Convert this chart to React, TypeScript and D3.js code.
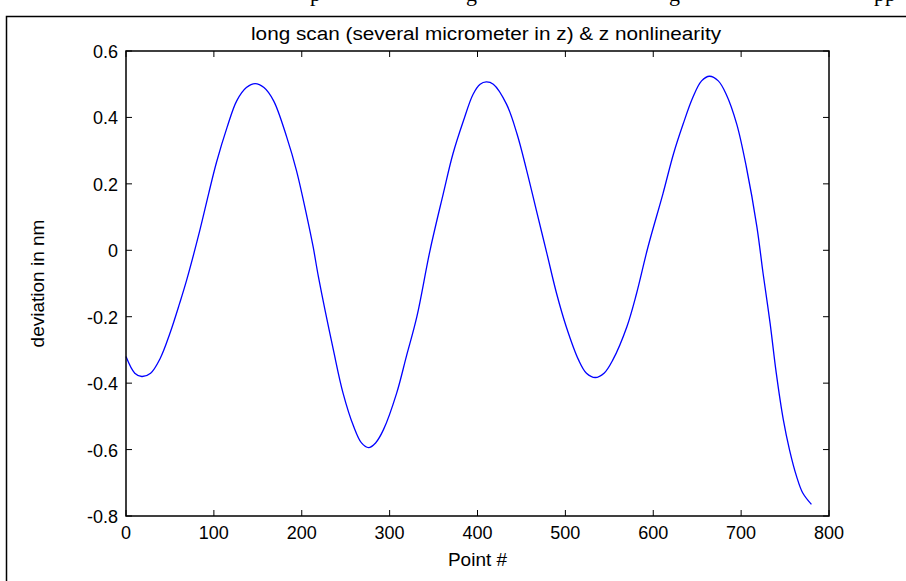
import React, { useEffect, useRef } from 'react';
import * as d3 from 'd3';

// point index
const pointIndex = [
  0, 10, 18, 28, 39, 50, 61, 69, 84, 94, 103, 115, 126, 137, 147, 157, 168, 183, 194, 206,
  213, 219, 236, 247, 259, 268, 276, 284, 293, 308, 319, 331, 346, 361, 372, 384, 395, 403,
  410, 418, 433, 445, 456, 467, 479, 490, 501, 515, 524, 534, 544, 554, 570, 581, 594, 611,
  623, 634, 645, 655, 664, 674, 683, 695, 706, 718, 725, 733, 740, 748, 755, 763, 770, 780,
];

// deviation in nm
const deviation = [
  -0.32, -0.37, -0.38, -0.37, -0.325, -0.25, -0.16, -0.09, 0.06, 0.17, 0.265, 0.37, 0.45, 0.49,
  0.502, 0.49, 0.45, 0.34, 0.24, 0.1, 0.01, -0.08, -0.3, -0.43, -0.53, -0.58, -0.594, -0.58,
  -0.54, -0.43, -0.32, -0.2, 0.0, 0.17, 0.29, 0.39, 0.47, 0.5, 0.507, 0.5, 0.44, 0.35, 0.24,
  0.12, -0.01, -0.13, -0.23, -0.33, -0.37, -0.383, -0.37, -0.33, -0.23, -0.13, 0.01, 0.17,
  0.29, 0.38, 0.46, 0.51, 0.524, 0.51, 0.47, 0.38, 0.25, 0.07, -0.07, -0.22, -0.37, -0.51,
  -0.6, -0.68, -0.73, -0.765,
];

const xTicks = [0, 100, 200, 300, 400, 500, 600, 700, 800];
const yTicks = [0.6, 0.4, 0.2, 0, -0.2, -0.4, -0.6, -0.8];

const App = () => {
  const svgRef = useRef<SVGSVGElement>(null);

  useEffect(() => {
    const svg = d3.select(svgRef.current);
    svg.selectAll('*').remove();

    const W = 906;
    const H = 581;
    const margin = { top: 51, right: 77, bottom: 65, left: 126 };
    const width = W - margin.left - margin.right;
    const height = H - margin.top - margin.bottom;
    const font = 'Arial, "Liberation Sans", sans-serif';

    // cut-off line of the surrounding document (only descenders show)
    const cut = [
      { t: 'p', x: 310 },
      { t: 'g', x: 466 },
      { t: 'g', x: 669 },
      { t: 'pp', x: 874 },
    ];
    svg.selectAll('.cut')
      .data(cut)
      .enter()
      .append('text')
      .attr('x', d => d.x)
      .attr('y', 1)
      .style('font-family', '"Liberation Serif", "Times New Roman", serif')
      .style('font-size', '22px')
      .text(d => d.t);

    // figure frame
    svg.append('rect')
      .attr('x', 6.5)
      .attr('y', 16.5)
      .attr('width', W + 10)
      .attr('height', H + 10)
      .attr('fill', 'none')
      .attr('stroke', '#000')
      .attr('stroke-width', 1.5);

    const g = svg.append('g')
      .attr('transform', `translate(${margin.left},${margin.top})`);

    const x = d3.scaleLinear().domain([0, 800]).range([0, width]);
    const y = d3.scaleLinear().domain([-0.8, 0.6]).range([height, 0]);

    // the curve
    const data = pointIndex.map((p, i) => ({ p, v: deviation[i] }));
    const line = d3.line<{ p: number; v: number }>()
      .x(d => x(d.p))
      .y(d => y(d.v))
      .curve(d3.curveCatmullRom.alpha(0.5));

    g.append('path')
      .datum(data)
      .attr('fill', 'none')
      .attr('stroke', '#0000ff')
      .attr('stroke-width', 1.3)
      .attr('d', line);

    // box
    g.append('rect')
      .attr('width', width)
      .attr('height', height)
      .attr('fill', 'none')
      .attr('stroke', '#000')
      .attr('stroke-width', 1.5);

    const tick = 6;
    // inward ticks on all sides
    xTicks.forEach(t => {
      g.append('line').attr('x1', x(t)).attr('x2', x(t)).attr('y1', height).attr('y2', height - tick)
        .attr('stroke', '#000').attr('stroke-width', 1);
      g.append('line').attr('x1', x(t)).attr('x2', x(t)).attr('y1', 0).attr('y2', tick)
        .attr('stroke', '#000').attr('stroke-width', 1);
    });
    yTicks.forEach(t => {
      g.append('line').attr('x1', 0).attr('x2', tick).attr('y1', y(t)).attr('y2', y(t))
        .attr('stroke', '#000').attr('stroke-width', 1);
      g.append('line').attr('x1', width).attr('x2', width - tick).attr('y1', y(t)).attr('y2', y(t))
        .attr('stroke', '#000').attr('stroke-width', 1);
    });

    // tick labels
    g.selectAll('.xlab')
      .data(xTicks)
      .enter()
      .append('text')
      .attr('x', d => x(d))
      .attr('y', height + 23)
      .attr('text-anchor', 'middle')
      .style('font-family', font)
      .style('font-size', '18px')
      .text(d => String(d));

    g.selectAll('.ylab')
      .data(yTicks)
      .enter()
      .append('text')
      .attr('x', -8)
      .attr('y', d => y(d) + 7)
      .attr('text-anchor', 'end')
      .style('font-family', font)
      .style('font-size', '18px')
      .text(d => String(d));

    // title and axis labels
    svg.append('text')
      .attr('x', 486)
      .attr('y', 40)
      .attr('text-anchor', 'middle')
      .attr('textLength', 470)
      .attr('lengthAdjust', 'spacingAndGlyphs')
      .style('font-family', font)
      .style('font-size', '18px')
      .text('long scan (several micrometer in z) & z nonlinearity');

    svg.append('text')
      .attr('x', margin.left + width / 2)
      .attr('y', 566)
      .attr('text-anchor', 'middle')
      .style('font-family', font)
      .style('font-size', '19px')
      .text('Point #');

    svg.append('text')
      .attr('transform', `translate(44,${margin.top + height / 2}) rotate(-90)`)
      .attr('text-anchor', 'middle')
      .style('font-family', font)
      .style('font-size', '19px')
      .text('deviation in nm');
  }, []);

  return (
    <svg
      ref={svgRef}
      width={906}
      height={581}
      style={{ position: 'absolute', left: 0, top: 0, background: '#fff', overflow: 'hidden' }}
    />
  );
};

export default App;
